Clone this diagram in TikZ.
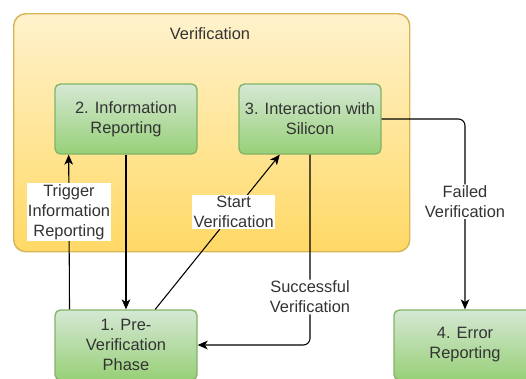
\documentclass[tikz,border=0pt]{standalone}
\usepackage{fontspec}
\setmainfont{Liberation Sans}
\usetikzlibrary{arrows.meta,calc}
\definecolor{txt}{HTML}{333333}
\definecolor{gtop}{HTML}{D5E8D4}
\definecolor{gbot}{HTML}{97D077}
\definecolor{gborder}{HTML}{82B366}
\definecolor{ytop}{HTML}{FFF2CC}
\definecolor{ybot}{HTML}{FFD966}
\definecolor{yborder}{HTML}{D6B656}
\begin{document}
\begin{tikzpicture}[x=0.75pt,y=-0.75pt,
  lblfont/.style={font=\fontsize{12.3}{15}\selectfont},
  box/.style={draw=gborder, line width=1pt, rounded corners=4pt, top color=gtop, bottom color=gbot,
    minimum width=106.5pt, minimum height=52.5pt, align=center, text=txt, inner sep=0pt, lblfont},
  container/.style={draw=yborder, line width=1.1pt, rounded corners=9pt, top color=ytop, bottom color=ybot,
    minimum width=297pt, minimum height=178.5pt, inner sep=0pt},
  lbl/.style={fill=white, align=center, text=txt, inner sep=1pt, lblfont},
  arr/.style={draw=black, line width=0.8pt, -{Stealth[length=7.5pt,width=6.5pt,inset=2pt]}},
  ln/.style={draw=black, line width=0.8pt}]
\useasboundingbox (0,0) rectangle (526,379);
\node[container, anchor=north west] (ver) at (13,13) {};
\node[text=txt, lblfont] (title) at (210,34) {Verification};
\node[box] (b2) at (126,119) {2. Information\\Reporting};
\node[box] (b3) at (310,119) {3. Interaction with\\Silicon};
\node[box] (b1) at (126,345) {1. Pre-\\Verification\\Phase};
\node[box] (b4) at (465,345) {4. Error\\Reporting};
\draw[arr] ($(b1.north west)!0.106!(b1.north east)$) -- ($(b2.south west)!0.1!(b2.south east)$)
  node[lbl, pos=0.63] (l1) {Trigger\\Information\\Reporting};
\draw[arr] (b2.south) -- (b1.north);
\draw[arr] ($(b1.north west)!0.704!(b1.north east)$) -- ($(b3.south west)!0.289!(b3.south east)$)
  node[lbl, pos=0.63] (l2) {Start\\Verification};
\draw[arr, rounded corners=5pt] (b3.south) |- (b1.east)
  node[lbl, pos=0.374] (l3) {Successful\\Verification};
\draw[arr, rounded corners=5pt] (b3.east) -| (b4.north)
  node[lbl, pos=0.717] (l4) {Failed\\Verification};
\end{tikzpicture}
\end{document}
